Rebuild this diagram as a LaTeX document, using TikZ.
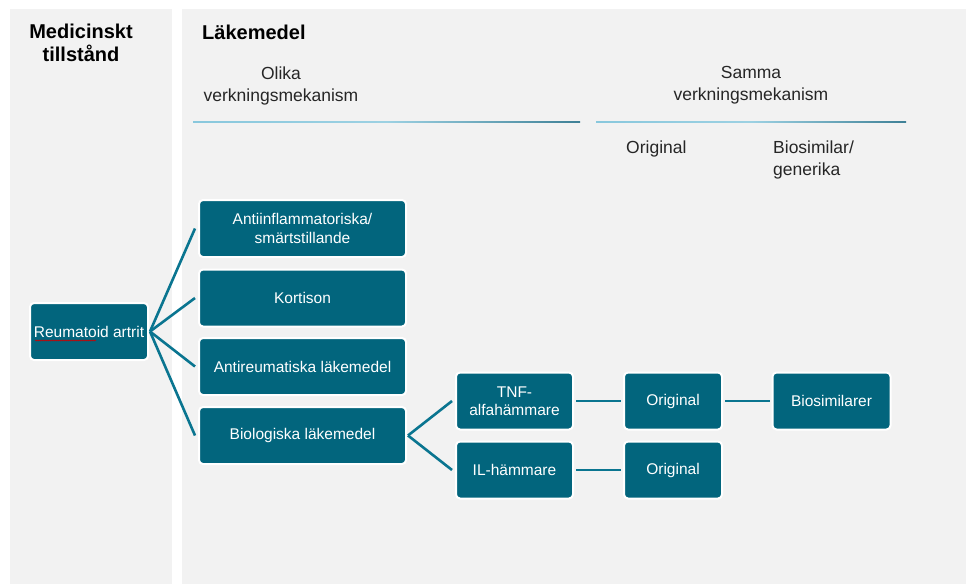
\documentclass[tikz,border=0pt]{standalone}
\usepackage{fontspec}
\setmainfont{Liberation Sans}
\usetikzlibrary{decorations.pathmorphing}
\begin{document}
\begin{tikzpicture}[x=1pt,y=-1pt,
  panel/.style={fill=panelgray, draw=none},
  box/.style={draw=white, line width=2pt, fill=boxteal, rounded corners=4pt,
    text=white, font=\fontsize{15.5}{18.5}\selectfont, align=center, inner sep=0pt},
  conn/.style={draw=connteal, line width=2.6pt},
  hdr/.style={font=\fontsize{20}{24}\selectfont\bfseries, inner sep=0pt},
  sub/.style={font=\fontsize{17.5}{22}\selectfont, inner sep=0pt, text=black!85},
  squiggle/.style={draw=red!80!black, line width=0.5pt, decorate,
    decoration={zigzag, segment length=2pt, amplitude=0.6pt}}
]
\definecolor{panelgray}{HTML}{F2F2F2}
\definecolor{boxteal}{HTML}{02657D}
\definecolor{connteal}{HTML}{0A7590}
\definecolor{rulecol}{HTML}{3AA3C6}
\useasboundingbox (0,0) rectangle (966,584);
\fill[white] (0,0) rectangle (966,584);
\path[panel] (10,9) rectangle (172,584);
\path[panel] (182,9) rectangle (966,584);

% headers
\node[hdr, align=center] (medhdr) at (81,43) {Medicinskt\\[-1pt]tillstånd};
\node[hdr, anchor=west] (lakhdr) at (202,32) {Läkemedel};
\node[sub, align=center] (olika) at (281,86) {Olika\\verkningsmekanism};
\node[sub, align=center] (samma) at (751,85) {Samma\\verkningsmekanism};
\node[sub, anchor=west] (orighdr) at (626,149) {Original};
\node[sub, anchor=north west, align=left] (biohdr) at (773,141) {Biosimilar/\\generika};

\shade[left color=rulecol!60!white, right color=rulecol!70!black!90, middle color=rulecol!50!white] (193,121.2) rectangle (580,122.8);
\shade[left color=rulecol!60!white, right color=rulecol!70!black!90, middle color=rulecol!50!white] (596,121.2) rectangle (906,122.8);

% nodes
\node[box, minimum width=118pt, minimum height=57pt] (ra) at (89,331.5) {Reumatoid artrit};
\node[box, minimum width=207pt, minimum height=57pt] (anti) at (302.5,228.5) {Antiinflammatoriska/\\smärtstillande};
\node[box, minimum width=207pt, minimum height=57pt] (kort) at (302.5,298) {Kortison};
\node[box, minimum width=207pt, minimum height=57pt] (antir) at (302.5,366.5) {Antireumatiska läkemedel};
\node[box, minimum width=207pt, minimum height=57pt] (bio) at (302.5,435.5) {Biologiska läkemedel};
\node[box, minimum width=117pt, minimum height=57pt] (tnf) at (514.5,401) {TNF-\\alfahämmare};
\node[box, minimum width=117pt, minimum height=57pt] (il) at (514.5,470) {IL-hämmare};
\node[box, minimum width=98pt, minimum height=57pt] (or1) at (673,401) {Original};
\node[box, minimum width=98pt, minimum height=57pt] (or2) at (673,470) {Original};
\node[box, minimum width=118pt, minimum height=57pt] (bsim) at (831.5,401) {Biosimilarer};

% red squiggle under "Reumatoid"
\path[squiggle] (35,340.5) -- (96,340.5);

% connectors
\draw[conn] ([xshift=1pt]ra.east) -- ([xshift=-3pt]anti.west);
\draw[conn] ([xshift=1pt]ra.east) -- ([xshift=-3pt]kort.west);
\draw[conn] ([xshift=1pt]ra.east) -- ([xshift=-3pt]antir.west);
\draw[conn] ([xshift=1pt]ra.east) -- ([xshift=-3pt]bio.west);
\draw[conn] ([xshift=1pt]bio.east) -- ([xshift=-3pt]tnf.west);
\draw[conn] ([xshift=1pt]bio.east) -- ([xshift=-3pt]il.west);
\draw[conn] ([xshift=2pt]tnf.east) -- ([xshift=-2pt]or1.west);
\draw[conn] ([xshift=2pt]il.east) -- ([xshift=-2pt]or2.west);
\draw[conn] ([xshift=2pt]or1.east) -- ([xshift=-2pt]bsim.west);
\end{tikzpicture}
\end{document}
